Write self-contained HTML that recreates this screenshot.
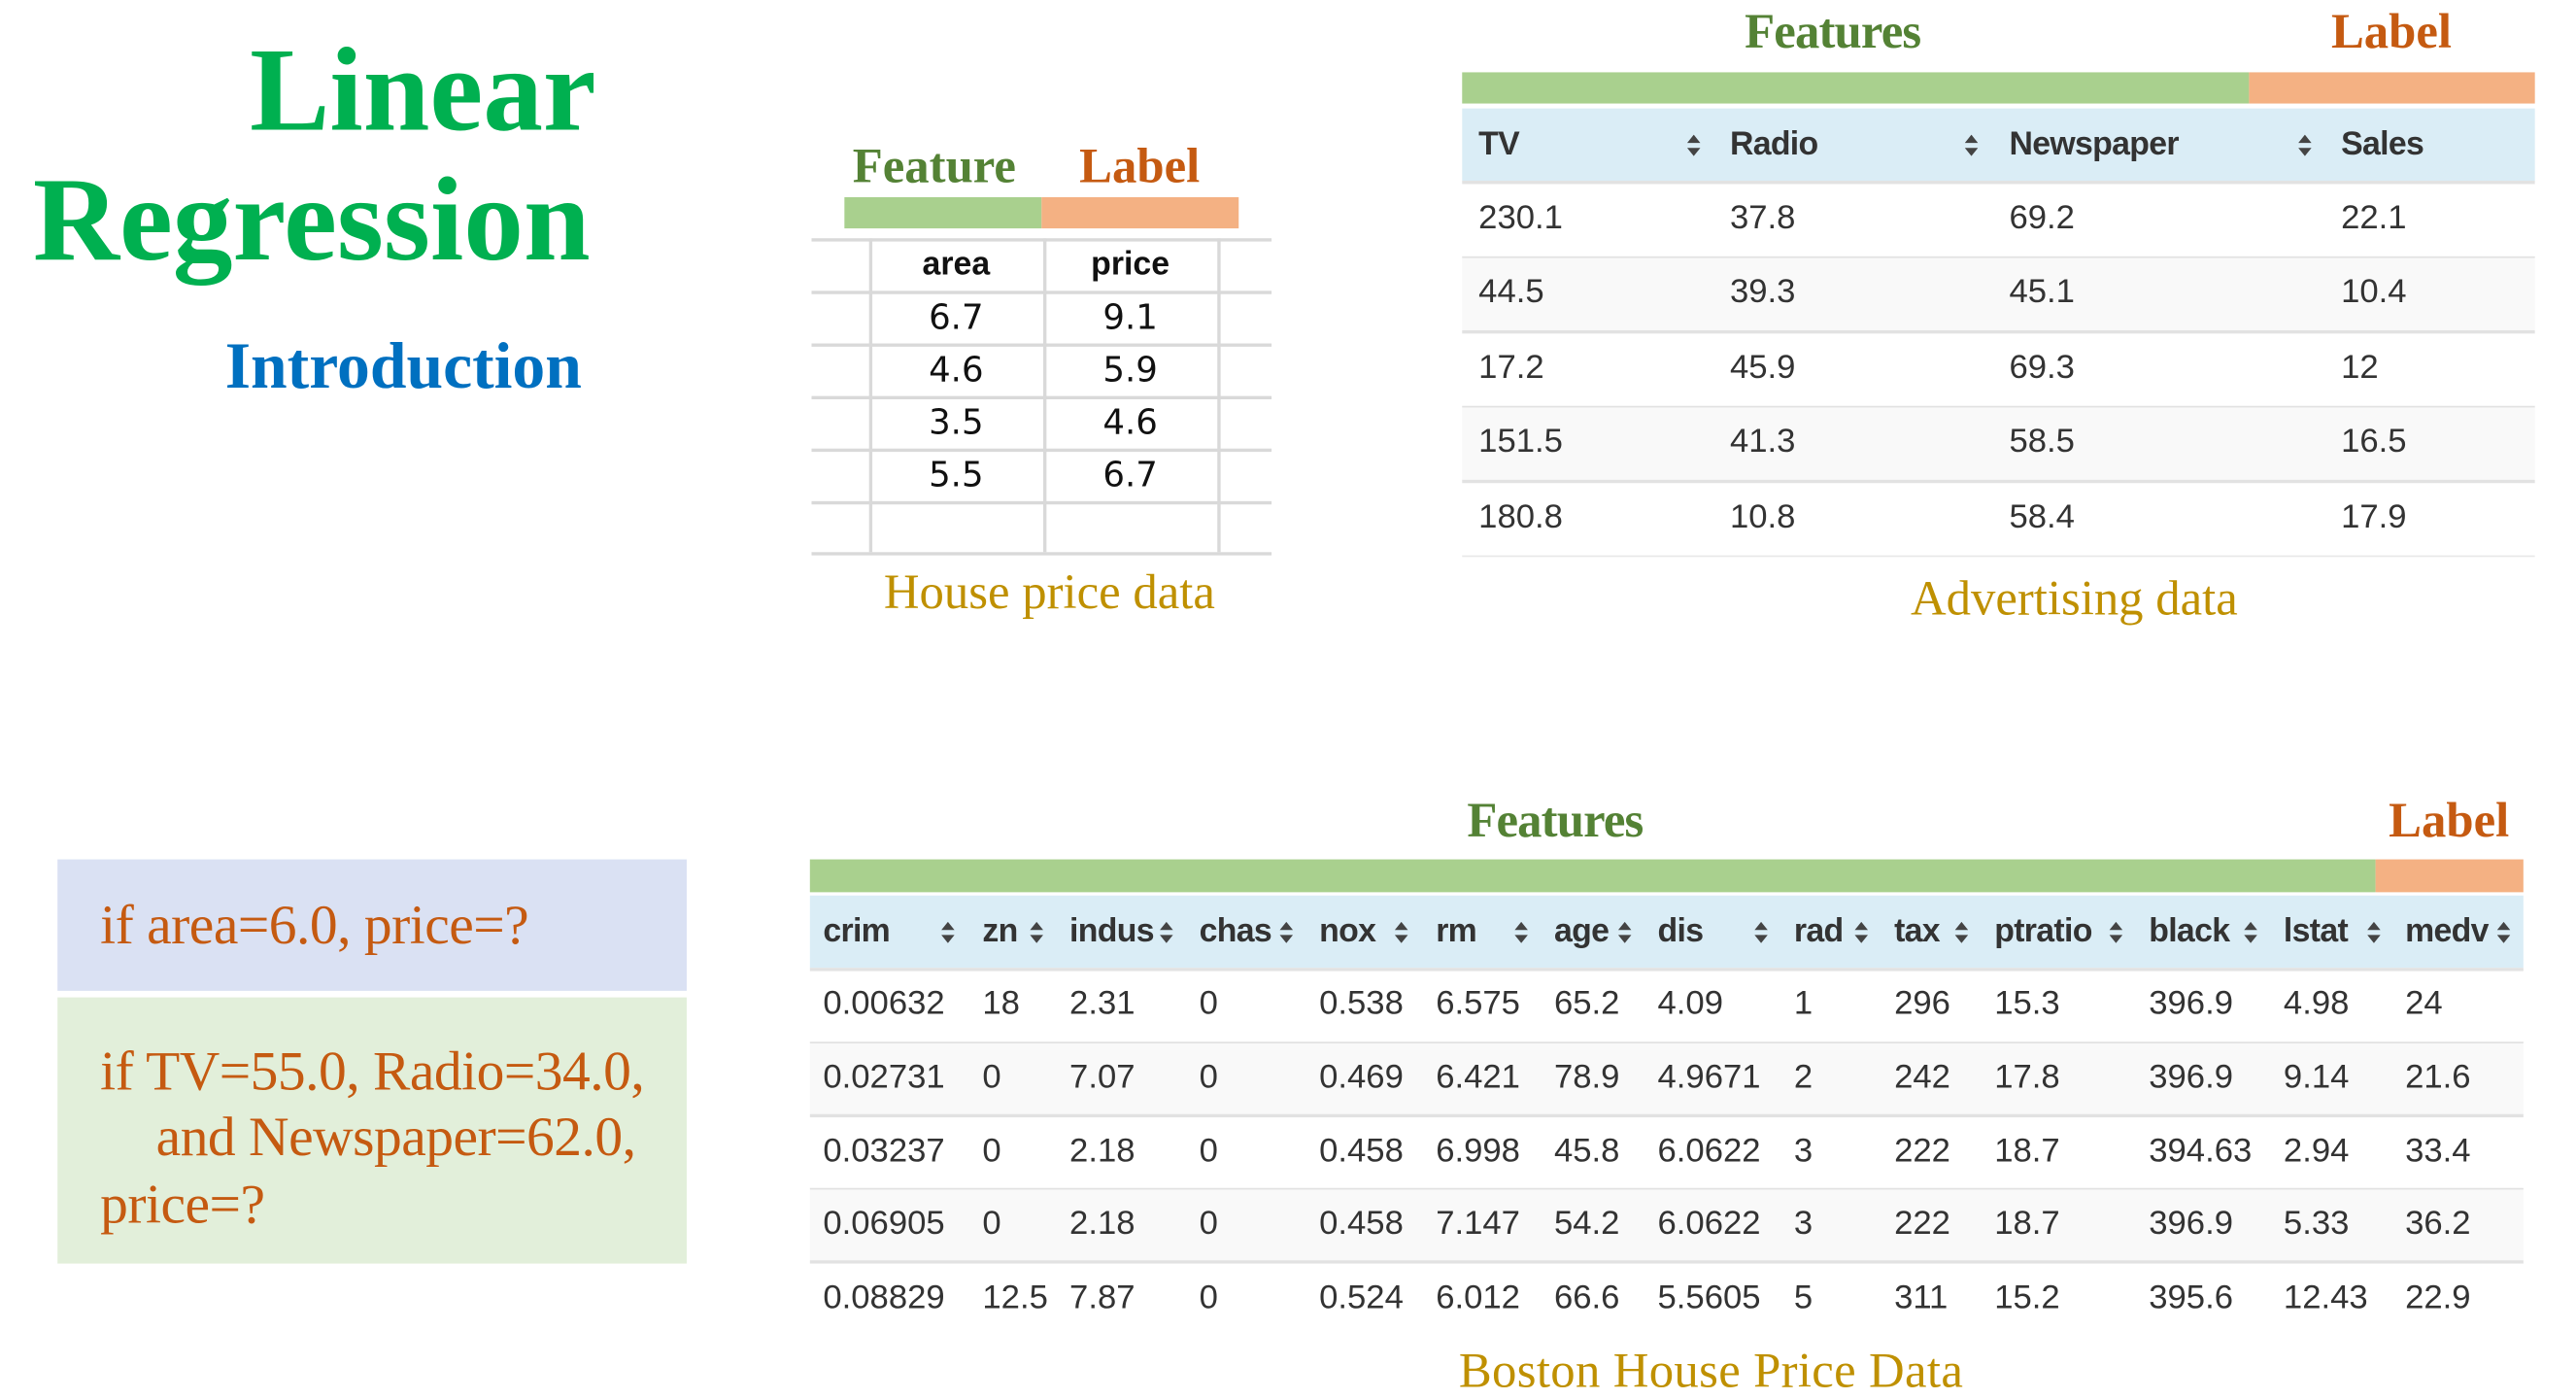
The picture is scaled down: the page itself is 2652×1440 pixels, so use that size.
<!DOCTYPE html>
<html><head><meta charset="utf-8">
<style>
html,body{margin:0;padding:0;background:#fff;width:2652px;height:1440px;overflow:hidden}
#stage{position:absolute;left:0;top:0;width:1568px;height:851px;transform:scale(1.6913);transform-origin:0 0;overflow:hidden}
.a{position:absolute;white-space:nowrap;line-height:1}
.serif{font-family:"Liberation Serif",serif}
.narrow{font-family:"Liberation Sans Narrow","Liberation Sans",sans-serif}
.box{position:absolute}
.ic{position:absolute;width:8px;height:13px}
</style></head><body>
<div id="stage">
  <div class="a serif" style="left:152px;top:18px;font-size:73px;font-weight:bold;color:#00b050">Linear</div>
  <div class="a serif" style="left:20px;top:97px;font-size:73px;font-weight:bold;color:#00b050">Regression</div>
  <div class="a serif" style="left:137px;top:203px;font-size:40px;font-weight:bold;color:#0070c0">Introduction</div>

  <div class="a serif" style="left:519px;top:87px;font-size:30px;font-weight:bold;color:#548235">Feature</div>
  <div class="a serif" style="left:657px;top:87px;font-size:30px;font-weight:bold;color:#c55a11">Label</div>
  <div class="box" style="left:514px;top:120px;width:120px;height:19px;background:#a9d08e"></div>
  <div class="box" style="left:634px;top:120px;width:120px;height:19px;background:#f4b183"></div>
  <div id="house"></div>
  <div class="a serif" style="left:538px;top:346px;font-size:30px;color:#bf9000">House price data</div>

  <div class="a serif" style="left:1062px;top:5px;font-size:30px;font-weight:bold;color:#548235;letter-spacing:-0.5px">Features</div>
  <div class="a serif" style="left:1419px;top:5px;font-size:30px;font-weight:bold;color:#c55a11">Label</div>
  <div class="box" style="left:890px;top:44px;width:479px;height:19px;background:#a9d08e"></div>
  <div class="box" style="left:1369px;top:44px;width:174px;height:19px;background:#f4b183"></div>
  <div id="adv"></div>
  <div class="a serif" style="left:1163px;top:350px;font-size:30px;color:#bf9000">Advertising data</div>

  <div class="box" style="left:35px;top:523px;width:383px;height:80px;background:#dae1f3"></div>
  <div class="a serif" style="left:61px;top:547px;font-size:34px;color:#c55a11;letter-spacing:-0.3px">if area=6.0, price=?</div>
  <div class="box" style="left:35px;top:607px;width:383px;height:162px;background:#e2efda"></div>
  <div class="a serif" style="left:61px;top:636px;font-size:34px;color:#c55a11;letter-spacing:-0.3px">if TV=55.0, Radio=34.0,</div>
  <div class="a serif" style="left:95px;top:676px;font-size:34px;color:#c55a11;letter-spacing:-0.3px">and Newspaper=62.0,</div>
  <div class="a serif" style="left:61px;top:717px;font-size:34px;color:#c55a11;letter-spacing:-0.3px">price=?</div>

  <div class="a serif" style="left:893px;top:485px;font-size:30px;font-weight:bold;color:#548235;letter-spacing:-0.5px">Features</div>
  <div class="a serif" style="left:1454px;top:485px;font-size:30px;font-weight:bold;color:#c55a11">Label</div>
  <div class="box" style="left:493px;top:523px;width:953px;height:20px;background:#a9d08e"></div>
  <div class="box" style="left:1446px;top:523px;width:90px;height:20px;background:#f4b183"></div>
  <div id="boston"></div>
  <div class="a serif" style="left:888px;top:820px;font-size:30px;color:#bf9000;letter-spacing:0.2px">Boston House Price Data</div>
</div>
<script>
function txt(parent,x,y,s,cls,style,name){
  const d=document.createElement('div');
  d.className='a '+cls;d.textContent=s;
  d.style.cssText='left:'+x+'px;top:'+y+'px;'+style;
  
  
  parent.appendChild(d);return d;
}
function rect(parent,x,y,w,h,bg,name){
  const d=document.createElement('div');
  d.className='box';d.style.cssText='left:'+x+'px;top:'+y+'px;width:'+w+'px;height:'+h+'px;background:'+bg;
  
  
  parent.appendChild(d);return d;
}
function icon(parent,x,y,name){
  const s=document.createElementNS('http://www.w3.org/2000/svg','svg');
  s.setAttribute('class','ic');s.setAttribute('viewBox','0 0 8 13');
  s.style.left=x+'px';s.style.top=y+'px';
  s.innerHTML='<path d="M4 0 L8 5 L0 5Z M0 8 L8 8 L4 13Z" fill="#444"/>';
  
  
  parent.appendChild(s);
}
const house=document.getElementById('house');
const houseCols=['area','price'];
const houseArea=['6.7','4.6','3.5','5.5'];
const housePrice=['9.1','5.9','4.6','6.7'];
[145,177,209,241,273,305,336].forEach(y=>rect(house,494,y,280,1.5,'#d9d9d9','house-grid-h'));
[529,635,741].forEach(x=>rect(house,x,145,1.5,191,'#d9d9d9','house-grid-v'));
const hcx=[582,688];
houseCols.forEach((c,i)=>txt(house,hcx[i]-60,151,c,'','font-family:"Liberation Sans",sans-serif;font-weight:bold;font-size:20px;width:120px;text-align:center;color:#111','house-header-'+c));
[houseArea,housePrice].forEach((col,ci)=>col.forEach((v,r)=>txt(house,hcx[ci]-60,183+r*32,v,'','font-family:"DejaVu Sans",sans-serif;font-size:21px;width:120px;text-align:center;color:#111','house-cell')));

function table(root,prefix,x0,x1,hTop,hH,rowH,cols,colX,iconX,rows,bottom){
  rect(root,x0,hTop,x1-x0,hH,'#daedf6',prefix+'-header-row');
  cols.forEach((c,i)=>{
    txt(root,colX[i],hTop+hH/2-10,c,'narrow','font-size:20px;font-weight:bold;color:#333;letter-spacing:-0.4px',prefix+'-header-'+c);
    if(iconX[i]!==null) icon(root,iconX[i],hTop+hH/2-6,prefix+'-sort-'+c);
  });
  rows.forEach((row,r)=>{
    const y=hTop+hH+r*rowH;
    rect(root,x0,y,x1-x0,rowH,r%2?'#f9f9f9':'#ffffff',prefix+'-row');
    rect(root,x0,y,x1-x0,1.5,'#e2e2e2',prefix+'-row-line');
    row.forEach((v,i)=>txt(root,colX[i],y+rowH/2-10,v,'narrow','font-size:20.5px;color:#333',prefix+'-cell'));
  });
  if(bottom) rect(root,x0,hTop+hH+rows.length*rowH,x1-x0,1.5,'#e8e8e8',prefix+'-bottom-line');
}
const advCols=['TV','Radio','Newspaper','Sales'];
const advRows=[['230.1','37.8','69.2','22.1'],['44.5','39.3','45.1','10.4'],['17.2','45.9','69.3','12'],['151.5','41.3','58.5','16.5'],['180.8','10.8','58.4','17.9']];
table(document.getElementById('adv'),'adv',890,1543,66,44,45.5,advCols,[900,1053,1223,1425],[1027,1196,1399,null],advRows,true);

const bosCols=['crim','zn','indus','chas','nox','rm','age','dis','rad','tax','ptratio','black','lstat','medv'];
const bosRows=[
['0.00632','18','2.31','0','0.538','6.575','65.2','4.09','1','296','15.3','396.9','4.98','24'],
['0.02731','0','7.07','0','0.469','6.421','78.9','4.9671','2','242','17.8','396.9','9.14','21.6'],
['0.03237','0','2.18','0','0.458','6.998','45.8','6.0622','3','222','18.7','394.63','2.94','33.4'],
['0.06905','0','2.18','0','0.458','7.147','54.2','6.0622','3','222','18.7','396.9','5.33','36.2'],
['0.08829','12.5','7.87','0','0.524','6.012','66.6','5.5605','5','311','15.2','395.6','12.43','22.9']];
table(document.getElementById('boston'),'boston',493,1536,545,44,44.6,bosCols,
 [501,598,651,730,803,874,946,1009,1092,1153,1214,1308,1390,1464],
 [573,627,706,779,849,922,985,1068,1129,1190,1284,1366,1441,1520],bosRows,false);
</script>
</body></html>
